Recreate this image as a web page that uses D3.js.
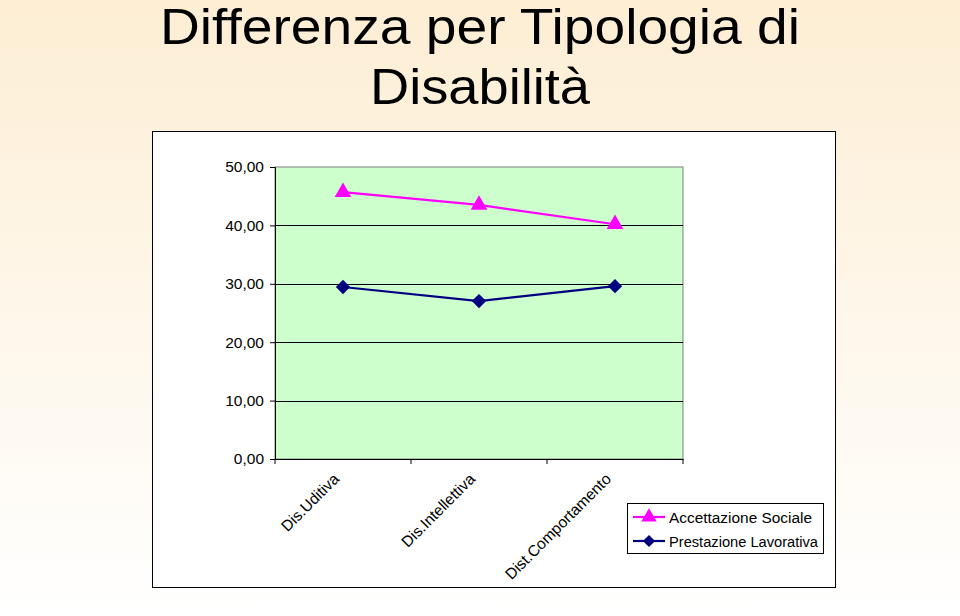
<!DOCTYPE html>
<html>
<head>
<meta charset="utf-8">
<script src="https://cdn.jsdelivr.net/npm/d3@7/dist/d3.min.js"></script>
<style>
  body { margin: 0; }
  svg { display: block; font-family: "Liberation Sans", Arial, sans-serif; }
</style>
</head>
<body>
<script>
const categories = ['Dis.Uditiva', 'Dis.Intellettiva', 'Dist.Comportamento']
const accettazioneSociale = [45.7, 43.5, 40.2]
const prestazioneLavorativa = [29.45, 27.05, 29.6]
const yTicks = [0, 10, 20, 30, 40, 50]

const series = [
  { key: 'Accettazione Sociale', values: accettazioneSociale, color: '#ff00ff', marker: 'triangle' },
  { key: 'Prestazione Lavorativa', values: prestazioneLavorativa, color: '#000080', marker: 'diamond' }
]

const width = 960, height = 616
const margin = { top: 167, right: 277, bottom: 157, left: 275 }
const w = width - margin.left - margin.right
const h = height - margin.top - margin.bottom

const svg = d3.select('body').append('svg')
    .attr('width', width)
    .attr('height', height)

// background gradient
const grad = svg.append('defs').append('linearGradient')
    .attr('id', 'bg').attr('x1', 0).attr('y1', 0).attr('x2', 0).attr('y2', 1)
grad.append('stop').attr('offset', '0%').attr('stop-color', '#fdeed4')
grad.append('stop').attr('offset', '100%').attr('stop-color', '#ffffff')
svg.append('rect').attr('width', width).attr('height', height).attr('fill', 'url(#bg)')

// title
const title = svg.append('g').attr('font-size', 50).attr('text-anchor', 'middle').attr('fill', '#000')
title.append('text').attr('x', 480).attr('y', 44)
    .attr('textLength', 640).attr('lengthAdjust', 'spacingAndGlyphs')
    .text('Differenza per Tipologia di')
title.append('text').attr('x', 480).attr('y', 104)
    .attr('textLength', 220).attr('lengthAdjust', 'spacingAndGlyphs')
    .text('Disabilità')

// chart frame
svg.append('rect')
    .attr('x', 152.5).attr('y', 131.5).attr('width', 683).attr('height', 456)
    .attr('fill', '#fff').attr('stroke', '#000').attr('stroke-width', 1)

const g = svg.append('g')
    .attr('transform', 'translate(' + margin.left + ',' + margin.top + ')')

const xScale = d3.scaleBand().domain(categories).range([0, w])
const yScale = d3.scaleLinear().domain([0, 50]).range([h, 0])

// plot area
g.append('rect')
    .attr('width', w).attr('height', h)
    .attr('fill', '#ccffcc').attr('stroke', '#808080')

// gridlines
g.append('g')
  .selectAll('line')
  .data(yTicks.filter(t => t > 0 && t < 50))
  .enter().append('line')
    .attr('x1', 0).attr('x2', w)
    .attr('y1', d => Math.round(yScale(d)) + 0.5)
    .attr('y2', d => Math.round(yScale(d)) + 0.5)
    .attr('stroke', '#000')

// y axis
const yAxis = g.append('g')
    .call(d3.axisLeft(yScale).tickValues(yTicks).tickSize(5).tickPadding(6)
      .tickFormat(d => d3.format('.2f')(d).replace('.', ',')))
yAxis.selectAll('text').attr('font-size', 15.5).attr('fill', '#000')
yAxis.selectAll('path, line').attr('stroke', '#000')

// x axis
const xAxis = g.append('g')
    .attr('transform', 'translate(0,' + h + ')')
    .call(d3.axisBottom(xScale).tickSize(0).tickFormat(''))
xAxis.select('path').attr('stroke', '#000')
xAxis.append('g')
  .selectAll('line')
  .data(d3.range(categories.length + 1))
  .enter().append('line')
    .attr('x1', i => i * xScale.step()).attr('x2', i => i * xScale.step())
    .attr('y1', 0).attr('y2', 5)
    .attr('stroke', '#000')
xAxis.append('g')
  .selectAll('text')
  .data(categories)
  .enter().append('text')
    .attr('transform', d => 'translate(' + (xScale(d) + xScale.bandwidth() / 2 - 3) + ',21) rotate(-45)')
    .attr('text-anchor', 'end')
    .attr('font-size', 15.5)
    .attr('fill', '#000')
    .text(d => d)

// markers
function marker(type, s) {
  if (type === 'triangle') return d3.symbol().type(d3.symbolTriangle).size(s * 1.2)()
  return 'M0,' + (-s / 14) + 'L' + (s / 14) + ',0L0,' + (s / 14) + 'L' + (-s / 14) + ',0Z'
}

const line = d3.line()
    .x((d, i) => xScale(categories[i]) + xScale.bandwidth() / 2)
    .y(d => yScale(d))

series.forEach(s => {
  g.append('path')
      .attr('d', line(s.values))
      .attr('fill', 'none')
      .attr('stroke', s.color)
      .attr('stroke-width', 2.2)
  g.selectAll(null)
    .data(s.values)
    .enter().append('path')
      .attr('d', marker(s.marker, 100))
      .attr('transform', (d, i) => 'translate(' + (xScale(categories[i]) + xScale.bandwidth() / 2) + ',' + yScale(d) + ')')
      .attr('fill', s.color)
})

// legend
const legendWidths = [143, 149]
const legend = svg.append('g').attr('transform', 'translate(627,503)')
legend.append('rect')
    .attr('x', 0.5).attr('y', 0.5).attr('width', 196).attr('height', 50)
    .attr('fill', '#fff').attr('stroke', '#000')
series.forEach((s, i) => {
  const row = legend.append('g').attr('transform', 'translate(0,' + (14 + i * 24) + ')')
  row.append('line').attr('x1', 6).attr('x2', 38).attr('y1', 0).attr('y2', 0)
      .attr('stroke', s.color).attr('stroke-width', 2.2)
  row.append('path')
      .attr('d', marker(s.marker, 85))
      .attr('transform', 'translate(22,0)')
      .attr('fill', s.color)
  row.append('text').attr('x', 42).attr('y', 5.5)
      .attr('font-size', 15.5).attr('fill', '#000')
      .attr('textLength', legendWidths[i]).attr('lengthAdjust', 'spacingAndGlyphs')
      .text(s.key)
})
</script>
</body>
</html>
